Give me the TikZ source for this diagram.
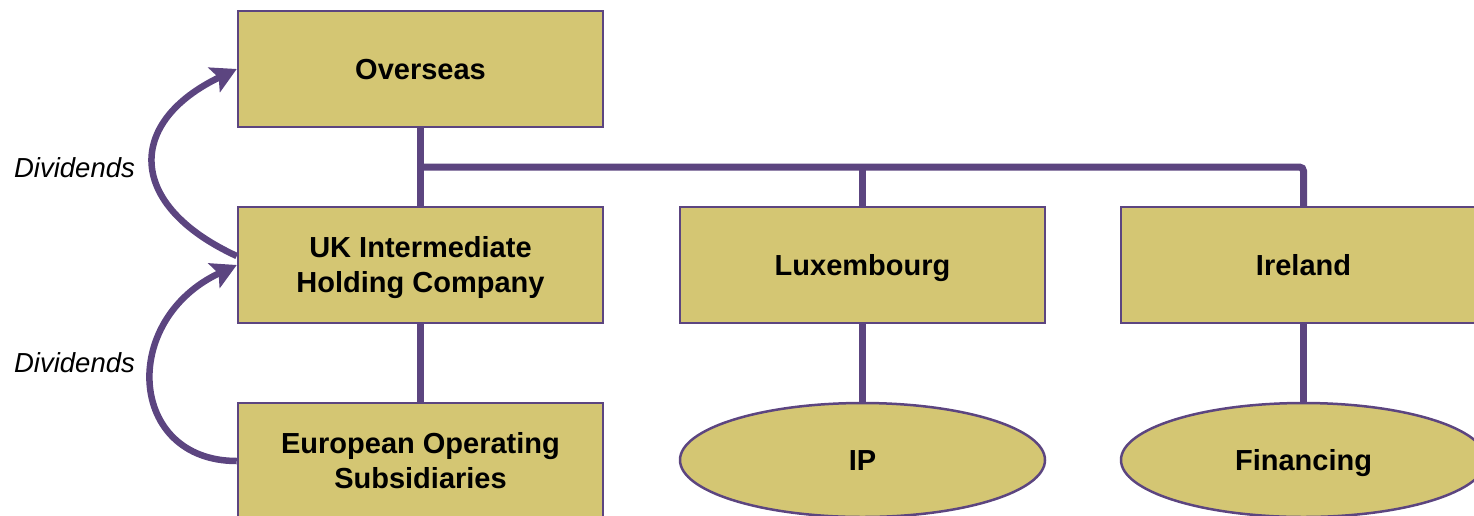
\documentclass[tikz,border=0pt]{standalone}
\usepackage{fontspec}
\setmainfont{Liberation Sans}
\usetikzlibrary{shapes.geometric,arrows.meta}

\definecolor{plum}{HTML}{5C4580}
\definecolor{khaki}{HTML}{D4C673}

\tikzset{
  entity/.style={draw=plum, line width=2.5pt, fill=khaki, rectangle,
    minimum width=365pt, minimum height=116pt, align=center, inner sep=0pt,
    text height=20.8pt, text depth=0pt,
    font=\fontsize{29}{35}\selectfont\bfseries},
  twoline/.style={text height=55.8pt, text depth=0pt},
  activity/.style={entity, ellipse, minimum width=365pt, minimum height=114pt},
  link/.style={draw=plum, line width=7pt},
  flow/.style={draw=plum, line width=6.5pt,
    -{Stealth[length=25pt,width=27pt,inset=5pt]}},
  note/.style={font=\fontsize{27.5}{33}\selectfont\itshape}
}

\begin{document}
\begin{tikzpicture}[x=1pt,y=-1pt]
  \useasboundingbox (0,0) rectangle (1474,515);

  % ownership structure
  \node[entity] (ov) at (420.5,69)  {Overseas};
  \node[entity,twoline] (uk) at (420.5,265) {UK Intermediate\\Holding Company};
  \node[entity,twoline] (eu) at (420.5,461) {European Operating\\Subsidiaries};
  \node[entity] (lu) at (862.5,265) {Luxembourg};
  \node[entity] (ie) at (1303.5,265) {Ireland};
  \node[activity] (ip) at (862.5,460) {IP};
  \node[activity] (fin) at (1303.5,460) {Financing};

  % shareholding lines
  \coordinate (bus) at (420.5,167);
  \draw[link] (ov) -- (uk);
  \draw[link] (uk) -- (eu);
  \draw[link, rounded corners=4pt] (bus) -| (ie.north);
  \draw[link] (bus -| lu.north) -- (lu.north);
  \draw[link] (lu) -- (ip);
  \draw[link] (ie) -- (fin);

  % dividend flows
  \draw[flow] ([yshift=9pt]uk.west) .. controls (126,205) and (126,122) .. (ov.west);
  \draw[flow] (eu.west) .. controls (128,461) and (119,320) .. (uk.west);

  \node[note] (d1) at (74.5,168) {Dividends};
  \node[note] (d2) at (74.5,363) {Dividends};
\end{tikzpicture}
\end{document}
